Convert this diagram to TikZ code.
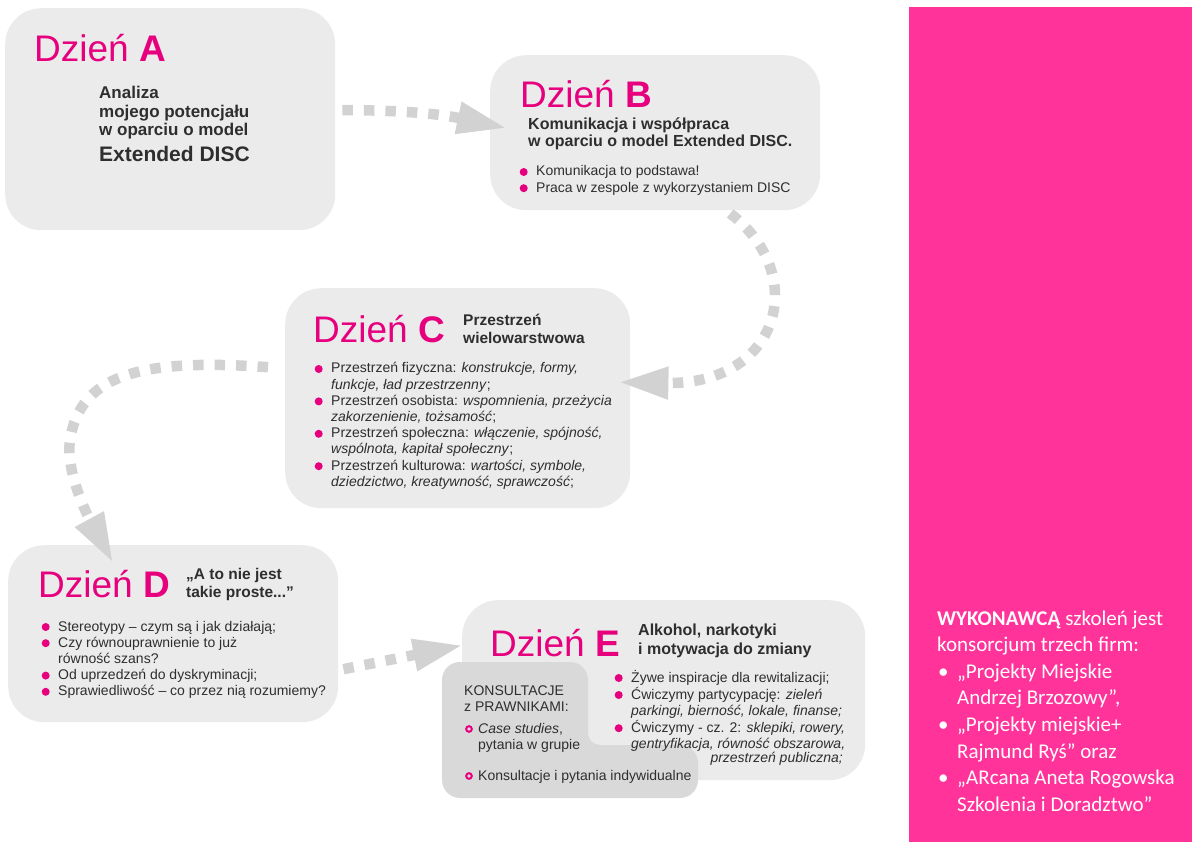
\documentclass[tikz,border=0pt]{standalone}
\usepackage{fontspec}
\setmainfont{Liberation Sans}
\newfontfamily\panelfont{Carlito}
\usetikzlibrary{arrows.meta}

\definecolor{dzpink}{HTML}{E6007E}
\definecolor{boxgray}{HTML}{EBEBEB}
\definecolor{consgray}{HTML}{D9D9D9}
\definecolor{flowgray}{HTML}{D2D2D2}
\definecolor{txt}{HTML}{2E2E2E}
\definecolor{panelpink}{HTML}{FF3399}

\newcommand\fs[2]{\fontsize{#1}{#2}\selectfont}
\newcommand\rows[1]{\begin{tabular}[t]{@{}l@{}}#1\end{tabular}}
% filled and hollow list markers
\newcommand\pdot{\tikz[baseline={(0,-4pt)}]\fill[dzpink] (0,0) circle (4pt);}
\newcommand\bul{\makebox[16pt][l]{\hspace{-0.5pt}\pdot}}
\newcommand\ind{\hspace*{16pt}}
\newcommand\ring{\makebox[13pt][l]{\tikz[baseline={(0,-4pt)}]\draw[dzpink,line width=2pt] (0,0) circle (2.8pt);}}

\begin{document}
\begin{tikzpicture}[x=1pt,y=-1pt,
  box/.style={fill=boxgray, rounded corners=36pt, inner sep=0, anchor=north west},
  dz/.style={text=dzpink, font=\fs{37}{40}, inner sep=0, anchor=base west},
  ttl/.style={text=txt, font=\bfseries\fs{16}{18}, inner sep=0, anchor=base west},
  lst/.style={text=txt, font=\fs{14}{16.2}, inner sep=0, anchor=base west},
  flow/.style={draw=flowgray, line width=10.5pt, dash pattern=on 10.5pt off 11pt,
               -{Triangle[length=50pt,width=30pt]}},
]
\useasboundingbox (0,0) rectangle (1192,842);

% day boxes
\node[box, minimum width=330pt, minimum height=222pt] (boxA) at (5,8) {};
\node[box, minimum width=330pt, minimum height=155pt] (boxB) at (490,55) {};
\node[box, minimum width=345pt, minimum height=220pt] (boxC) at (285,288) {};
\node[box, minimum width=330pt, minimum height=177pt] (boxD) at (8,545) {};
\node[box, minimum width=403pt, minimum height=180pt] (boxE) at (462,600) {};

% consultation tab over day E
\fill[consgray] (460,662) -- (570,662) arc[start angle=270,end angle=360,radius=18]
  -- (588,733) arc[start angle=180,end angle=90,radius=12]
  -- (680,745) arc[start angle=270,end angle=360,radius=18]
  -- (698,780) arc[start angle=0,end angle=90,radius=18]
  -- (460,798) arc[start angle=90,end angle=180,radius=18]
  -- (442,680) arc[start angle=180,end angle=270,radius=18] -- cycle;

% side panel
\node[fill=panelpink, anchor=north west, minimum width=283pt, minimum height=835pt, inner sep=0] (panel) at (909,7) {};

% flow arrows
\coordinate (abS) at ([shift={(7,-9)}]boxA.east);
\coordinate (abT) at ([shift={(17,-4.5)}]boxB.west);
\coordinate (bcS) at ([shift={(75,3)}]boxB.south);
\coordinate (bcT) at ([shift={(-12,-16)}]boxC.east);
\coordinate (cdS) at ([shift={(-17,-31)}]boxC.west);
\coordinate (cdM) at (70,440);
\coordinate (cdT) at ([shift={(-60,18)}]boxD.north);
\coordinate (deS) at ([shift={(5,35.5)}]boxD.east);
\coordinate (deT) at ([shift={(1,-45)}]boxE.west);

\draw[flow] (abS) .. controls (400,110) and (440,114) .. (abT);
\draw[flow] (bcS) .. controls (810,275) and (780,385) .. (bcT);
\draw[flow] (cdS) .. controls (140,358) and (80,375) .. (cdM)
                  .. controls (65,475) and (92,524) .. (cdT);
\draw[flow] (deS) -- (deT);

% day A
\node[dz] (tA) at (34,62) {Dzień \textbf{A}};
\node[ttl, font=\bfseries\fs{17}{18.5}] (aT) at (99,99) {\rows{Analiza\\mojego potencjału\\w oparciu o model}};
\node[ttl, font=\bfseries\fs{21}{22}] (aX) at (99,162) {Extended DISC};

% day B
\node[dz] (tB) at (520,108) {Dzień \textbf{B}};
\node[ttl, font=\bfseries\fs{16}{17}] (bT) at (528,130) {\rows{Komunikacja i współpraca\\w oparciu o model Extended DISC.}};
\node[lst] (bL) at (520,176) {\rows{\bul Komunikacja to podstawa!\\\bul Praca w zespole z wykorzystaniem DISC}};

% day C
\node[dz] (tC) at (313,343) {Dzień \textbf{C}};
\node[ttl, font=\bfseries\fs{15.5}{18}] (cT) at (463,326) {\rows{Przestrzeń\\wielowarstwowa}};
\node[lst] (cL) at (315,373) {\rows{%
\bul Przestrzeń fizyczna: \textit{konstrukcje, formy,}\\
\ind\textit{funkcje, ład przestrzenny};\\
\bul Przestrzeń osobista: \textit{wspomnienia, przeżycia}\\
\ind\textit{zakorzenienie, tożsamość};\\
\bul Przestrzeń społeczna: \textit{włączenie, spójność,}\\
\ind\textit{wspólnota, kapitał społeczny};\\
\bul Przestrzeń kulturowa: \textit{wartości, symbole,}\\
\ind\textit{dziedzictwo, kreatywność, sprawczość};}};

% day D
\node[dz] (tD) at (38,597) {Dzień \textbf{D}};
\node[ttl, font=\bfseries\fs{15.5}{18}] (dT) at (186,579) {\rows{„A to nie jest\\takie proste...”}};
\node[lst] (dL) at (42,631) {\rows{%
\bul Stereotypy – czym są i jak działają;\\
\bul Czy równouprawnienie to już\\
\ind równość szans?\\
\bul Od uprzedzeń do dyskryminacji;\\
\bul Sprawiedliwość – co przez nią rozumiemy?}};

% day E
\node[dz] (tE) at (490,656) {Dzień \textbf{E}};
\node[ttl, font=\bfseries\fs{16}{19}] (eT) at (638,635) {\rows{Alkohol, narkotyki\\i motywacja do zmiany}};
\node[lst] (eL) at (615,682) {\rows{%
\bul Żywe inspiracje dla rewitalizacji;\\
\bul Ćwiczymy partycypację: \textit{zieleń}\\
\ind\textit{parkingi, bierność, lokale, finanse;}\\
\bul Ćwiczymy - cz. 2: \textit{sklepiki, rowery,}\\
\ind\textit{gentryfikacja, równość obszarowa,}}};
\node[lst, anchor=base east] (eR) at (843,762) {\textit{przestrzeń publiczna;}};

% consultations
\node[lst] (kT) at (464,695) {\rows{KONSULTACJE\\z PRAWNIKAMI:}};
\node[lst] (kL) at (465,733) {\rows{\ring\textit{Case studies},\\\hspace*{13pt}pytania w grupie}};
\node[lst] (kI) at (465,780) {\ring Konsultacje i pytania indywidualne};

% contractor note
\node[text=white, font=\panelfont\fs{21}{26.6}, inner sep=0, anchor=base west] (pT) at (937,625) {\rows{%
\textbf{WYKONAWCĄ} szkoleń jest\\
konsorcjum trzech firm:\\
\makebox[20pt][l]{\hspace{1pt}•}„Projekty Miejskie\\
\hspace*{20pt}Andrzej Brzozowy”,\\
\makebox[20pt][l]{\hspace{1pt}•}„Projekty miejskie+\\
\hspace*{20pt}Rajmund Ryś” oraz\\
\makebox[20pt][l]{\hspace{1pt}•}„ARcana Aneta Rogowska\\
\hspace*{20pt}Szkolenia i Doradztwo”}};
\end{tikzpicture}
\end{document}
